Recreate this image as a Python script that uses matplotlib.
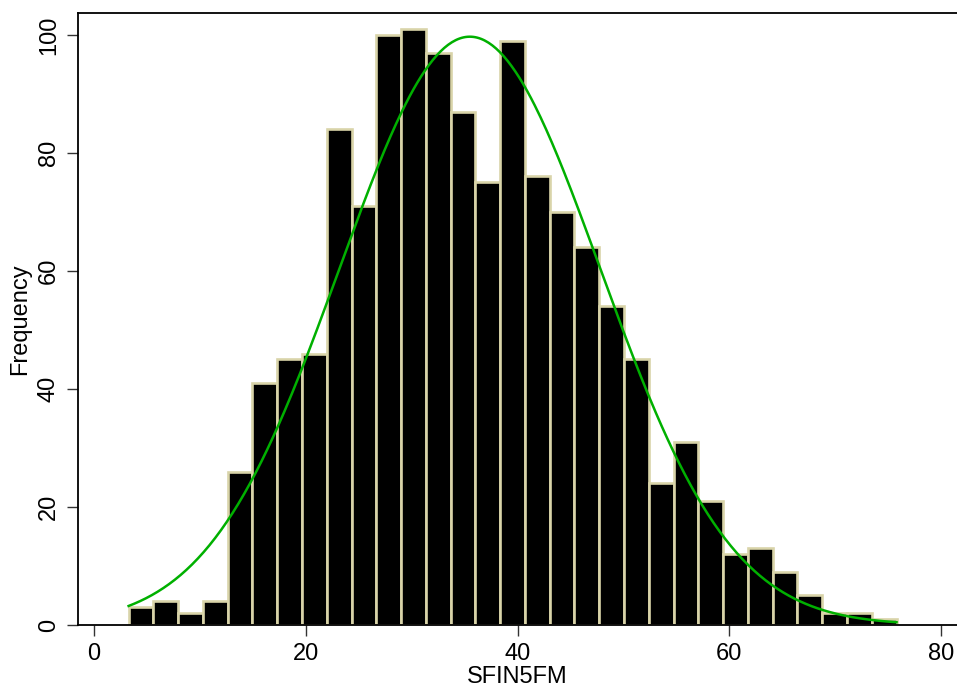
import numpy as np
import matplotlib
matplotlib.use("Agg")
import matplotlib.pyplot as plt

plt.rcParams['font.family'] = ['Liberation Sans', 'DejaVu Sans']

# Histogram data (31 bins)
bin_start = 3.28
bin_width = 2.339
counts = [3, 4, 2, 4, 26, 41, 45, 46, 84, 71, 100, 101, 97, 87, 75, 99,
          76, 70, 64, 54, 45, 24, 31, 21, 12, 13, 9, 5, 2, 2, 1]
# Normal overlay parameters
mu = 35.5
sigma = 12.3

xticks = [0, 20, 40, 60, 80]
yticks = [0, 20, 40, 60, 80, 100]

fig = plt.figure(figsize=(9.57, 6.91), dpi=100)
ax = fig.add_axes([78/957, 1 - 625/691, (957-78)/957, (625-13)/691])

n = len(counts)
edges = bin_start + bin_width * np.arange(n + 1)
ax.bar(edges[:-1], counts, width=bin_width, align='edge', color='black',
       edgecolor='#d9d4a9', linewidth=1.9, zorder=2)

N = sum(counts)
xs = np.linspace(edges[0], edges[-1], 400)
ys = N * bin_width / (sigma * np.sqrt(2 * np.pi)) * np.exp(-0.5 * ((xs - mu) / sigma) ** 2)
ax.plot(xs, ys, color='#00b000', linewidth=1.8, zorder=3)

ax.set_xlim(-1.5, 81.5)
ax.set_ylim(0, 103.7)
ax.set_xticks(xticks)
ax.set_yticks(yticks)
ax.tick_params(axis='both', direction='out', length=8, width=1, color='#333333',
               labelsize=17, pad=5)
for lab in ax.get_yticklabels():
    lab.set_rotation(90)
    lab.set_va('center')
ax.spines['right'].set_visible(False)
for s in ['left', 'top', 'bottom']:
    ax.spines[s].set_linewidth(1.3)
ax.set_xlabel('SFIN5FM', fontsize=17, labelpad=1)
ax.set_ylabel('Frequency', fontsize=17, labelpad=5)

fig.savefig('out.png', dpi=100)
